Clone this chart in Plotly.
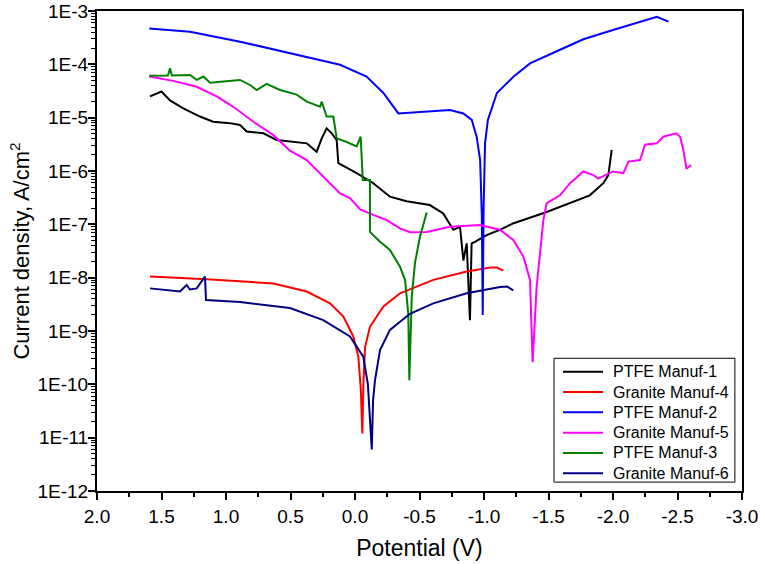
import plotly.graph_objects as go

# ---- data ----
ptfe1_v = [1.589, 1.50, 1.434, 1.331, 1.202, 1.10, 0.969, 0.891, 0.84, 0.71, 0.607, 0.452, 0.374, 0.297,
           0.258, 0.22, 0.181, 0.142, 0.129, -0.013, -0.142, -0.271, -0.40, -0.58, -0.684, -0.762, -0.814,
           -0.84, -0.866, -0.891, -0.904, -0.93, -1.02, -1.124, -1.23, -1.486, -1.744, -1.82, -1.925, -1.964, -1.99]
ptfe1_i = [2.5e-5, 3.1e-5, 2.1e-5, 1.5e-5, 1.05e-5, 8.4e-6, 7.9e-6, 7.3e-6, 5.5e-6, 5.1e-6, 3.8e-6, 3.5e-6, 3.3e-6, 2.3e-6,
           4.1e-6, 6.3e-6, 5.1e-6, 3.8e-6, 1.4e-6, 9.1e-7, 5.9e-7, 3.3e-7, 2.7e-7, 2.3e-7, 1.6e-7, 7.9e-8, 9.0e-8,
           2.1e-8, 4.4e-8, 1.6e-9, 4.4e-8, 4.7e-8, 6.3e-8, 7.9e-8, 1.05e-7, 1.7e-7, 2.9e-7, 3.5e-7, 5.9e-7, 8.4e-7, 2.5e-6]

gran4_v = [1.589, 1.15, 0.633, 0.374, 0.194, 0.09, 0.013, -0.026, -0.045, -0.057, -0.065, -0.078, -0.116, -0.22,
           -0.349, -0.607, -0.866, -1.05, -1.10, -1.15]
gran4_i = [1.05e-8, 9.3e-9, 7.8e-9, 5.5e-9, 3.3e-9, 1.86e-9, 7.9e-10, 3.3e-10, 8e-11, 1.2e-11, 1e-10, 5e-10, 1.2e-9, 2.9e-9,
           5.1e-9, 9.1e-9, 1.3e-8, 1.55e-8, 1.55e-8, 1.35e-8]

ptfe2_v = [1.595, 1.279, 0.891, 0.504, 0.116, -0.09, -0.22, -0.336, -0.66, -0.736, -0.84, -0.905, -0.943, -0.97,
           -0.983, -0.99, -0.997, -1.008, -1.03, -1.10, -1.23, -1.357, -1.615, -1.77, -2.00, -2.13, -2.287, -2.34, -2.43]
ptfe2_i = [4.7e-4, 4.1e-4, 2.66e-4, 1.62e-4, 9.8e-5, 5.9e-5, 2.9e-5, 1.2e-5, 1.33e-5, 1.39e-5, 1.2e-5, 9.1e-6, 4.4e-6, 1.6e-6,
           1.5e-7, 2e-9, 2e-7, 3.3e-6, 9.1e-6, 2.9e-5, 5.9e-5, 1.04e-4, 2.0e-4, 2.95e-4, 4.4e-4, 5.5e-4, 7.3e-4, 7.8e-4, 6.3e-4]

gran5_v = [1.595, 1.409, 1.227, 1.072, 0.943, 0.788, 0.633, 0.504, 0.374, 0.246, 0.168, 0.116, 0.039, -0.04,
           -0.142, -0.246, -0.349, -0.426, -0.556, -0.736, -0.969, -1.124, -1.227, -1.305, -1.357, -1.377,
           -1.408, -1.46, -1.486, -1.589, -1.667, -1.77, -1.847, -1.886, -2.00, -2.08, -2.12, -2.21, -2.248,
           -2.34, -2.39, -2.49, -2.52, -2.545, -2.57, -2.605]
gran5_i = [5.9e-5, 4.9e-5, 3.8e-5, 2.5e-5, 1.6e-5, 8.4e-6, 4.7e-6, 2.4e-6, 1.6e-6, 7.8e-7, 5.1e-7, 3.8e-7, 3.1e-7, 1.9e-7,
           1.5e-7, 1.2e-7, 8.4e-8, 7.1e-8, 7.2e-8, 9.0e-8, 9.7e-8, 7.9e-8, 5.1e-8, 2.5e-8, 9.1e-9, 2.6e-10,
           6.7e-9, 1.2e-7, 2.5e-7, 3.5e-7, 5.9e-7, 9.8e-7, 8.4e-7, 7.2e-7, 9.8e-7, 9.1e-7, 1.5e-6, 1.6e-6, 3.1e-6,
           3.3e-6, 4.4e-6, 5.1e-6, 4.4e-6, 2.5e-6, 1.1e-6, 1.3e-6]

ptfe3_v = [1.595, 1.45, 1.434, 1.42, 1.279, 1.227, 1.175, 1.124, 0.891, 0.814, 0.762, 0.685, 0.581, 0.452, 0.374,
           0.271, 0.258, 0.22, 0.168, 0.142, 0.064, -0.013, -0.044, -0.06, -0.116, -0.116, -0.194, -0.271,
           -0.349, -0.388, -0.413, -0.421, -0.44, -0.465, -0.504, -0.556]
ptfe3_i = [6.1e-5, 6.2e-5, 8.4e-5, 6.2e-5, 6.3e-5, 5.1e-5, 5.9e-5, 4.5e-5, 5.1e-5, 4.1e-5, 3.3e-5, 4.3e-5, 3.3e-5, 2.7e-5, 2.0e-5,
           1.6e-5, 2.0e-5, 1.05e-5, 1.05e-5, 4.1e-6, 3.5e-6, 2.9e-6, 4.4e-6, 6.8e-7, 6.8e-7, 7.2e-8, 4.7e-8, 3.3e-8,
           1.6e-8, 9.1e-9, 2.1e-9, 1.2e-10, 4.4e-9, 1.9e-8, 5.9e-8, 1.66e-7]

gran6_v = [1.589, 1.357, 1.305, 1.28, 1.227, 1.189, 1.163, 1.155, 0.891, 0.504, 0.246, 0.039, -0.064, -0.10,
           -0.13, -0.14, -0.155, -0.194, -0.271, -0.426, -0.607, -0.866, -1.124, -1.18, -1.227]
gran6_i = [6.3e-9, 5.5e-9, 7.3e-9, 6.0e-9, 6.3e-9, 8.4e-9, 1.05e-8, 3.8e-9, 3.5e-9, 2.7e-9, 1.6e-9, 7.9e-10, 3.3e-10, 1e-10,
           6e-12, 5e-11, 1.2e-10, 4.4e-10, 1.05e-9, 2.1e-9, 3.3e-9, 5.1e-9, 6.7e-9, 6.8e-9, 5.8e-9]

series_names = ["PTFE Manuf-1", "Granite Manuf-4", "PTFE Manuf-2", "Granite Manuf-5", "PTFE Manuf-3", "Granite Manuf-6"]
series_v = [ptfe1_v, gran4_v, ptfe2_v, gran5_v, ptfe3_v, gran6_v]
series_i = [ptfe1_i, gran4_i, ptfe2_i, gran5_i, ptfe3_i, gran6_i]
series_colors = ["#000000", "#FF0000", "#0000FF", "#FF00FF", "#008000", "#000080"]

x_ticks = [2.0, 1.5, 1.0, 0.5, 0.0, -0.5, -1.0, -1.5, -2.0, -2.5, -3.0]
x_ticklabels = ["2.0", "1.5", "1.0", "0.5", "0.0", "-0.5", "-1.0", "-1.5", "-2.0", "-2.5", "-3.0"]
y_exps = [-3, -4, -5, -6, -7, -8, -9, -10, -11, -12]
y_ticklabels = ["1E-3", "1E-4", "1E-5", "1E-6", "1E-7", "1E-8", "1E-9", "1E-10", "1E-11", "1E-12"]

fig = go.Figure()
for name, v, i, c in zip(series_names, series_v, series_i, series_colors):
    fig.add_trace(go.Scatter(x=v, y=i, mode="lines", name=name,
                             line=dict(color=c, width=2), showlegend=False))

# ---- hand-built legend (paper coordinates) ----
leg_x0, leg_x1, leg_y0, leg_y1 = 0.7085, 0.989, 0.0185, 0.2765
line_x0, line_x1, text_x = 0.7225, 0.7845, 0.797
row_top, row_step = 0.2485, 0.0423
shapes = [dict(type="rect", xref="paper", yref="paper", x0=leg_x0, x1=leg_x1, y0=leg_y0, y1=leg_y1,
               line=dict(color="black", width=1), fillcolor="white", layer="above")]
annotations = []
for k, (name, c) in enumerate(zip(series_names, series_colors)):
    yy = row_top - k * row_step
    shapes.append(dict(type="line", xref="paper", yref="paper", x0=line_x0, x1=line_x1, y0=yy, y1=yy,
                       line=dict(color=c, width=2), layer="above"))
    annotations.append(dict(xref="paper", yref="paper", x=text_x, y=yy, text=name, showarrow=False,
                            xanchor="left", yanchor="middle", font=dict(size=16)))

y_major = [10.0 ** e for e in y_exps]
y_minor = [m * 10.0 ** e for e in range(-12, -3) for m in range(2, 10)]
x_minor = [x - 0.25 for x in x_ticks[:-1]]

font = "Liberation Sans, Arial, sans-serif"
fig.update_layout(
    width=760, height=564,
    margin=dict(l=97, r=18, t=11, b=73),
    plot_bgcolor="white", paper_bgcolor="white",
    font=dict(family=font, color="black", size=19),
    showlegend=False,
    shapes=shapes, annotations=annotations,
    xaxis=dict(range=[2.0, -3.0], tickmode="array", tickvals=x_ticks, ticktext=x_ticklabels,
               automargin=False, ticklabeloverflow="allow",
               ticks="outside", ticklen=7, tickwidth=1.5, tickcolor="black",
               showline=True, linecolor="black", linewidth=2, mirror=True,
               showgrid=False, zeroline=False,
               minor=dict(tickmode="array", tickvals=x_minor, ticks="outside", ticklen=4,
                          tickwidth=1.5, tickcolor="black", showgrid=False),
               title=dict(text="Potential (V)", font=dict(size=23), standoff=14),
               tickfont=dict(size=19)),
    yaxis=dict(type="log", range=[-12, -3], tickmode="array", tickvals=y_major, ticktext=y_ticklabels,
               automargin=False, ticklabelstandoff=-4, ticklabeloverflow="allow",
               ticks="outside", ticklen=7, tickwidth=1.5, tickcolor="black",
               showline=True, linecolor="black", linewidth=2, mirror=True,
               showgrid=False, zeroline=False,
               minor=dict(tickmode="array", tickvals=y_minor, ticks="outside", ticklen=4,
                          tickwidth=1, tickcolor="black", showgrid=False),
               title=dict(text="Current density, A/cm<sup>2</sup>", font=dict(size=22), standoff=2),
               tickfont=dict(size=19)),
)

fig.write_html("out.html", config={"displayModeBar": False},
               post_script="document.body.style.margin='0px';")
